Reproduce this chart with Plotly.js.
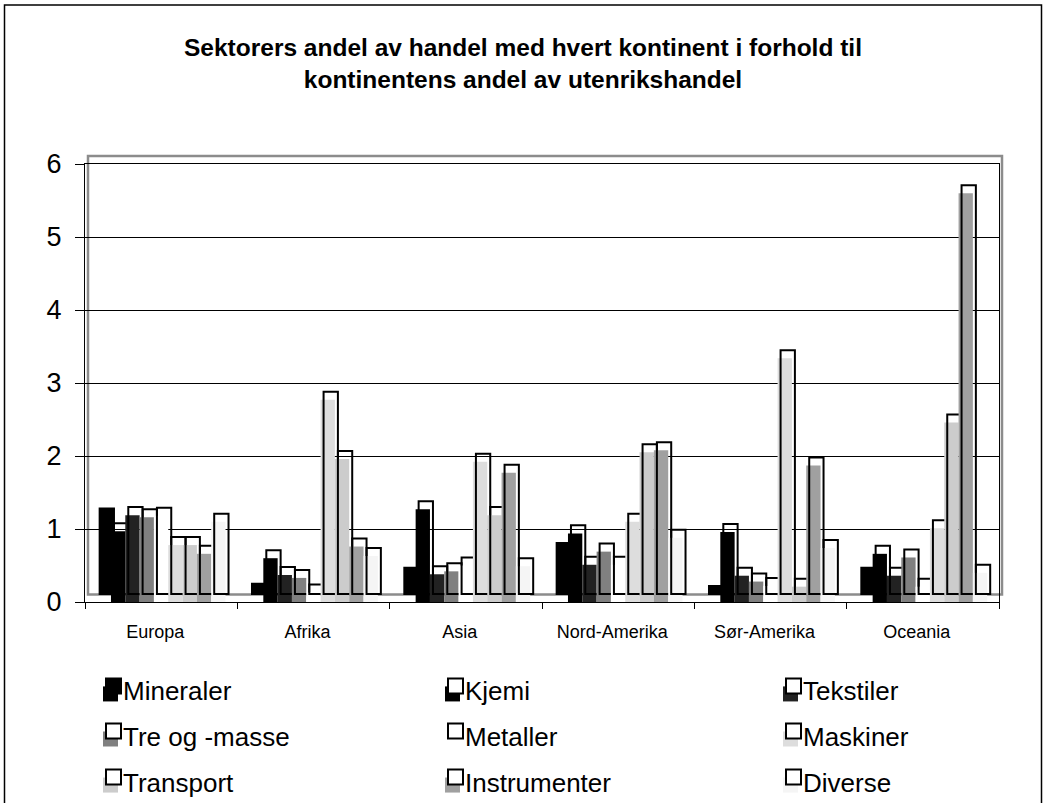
<!DOCTYPE html>
<html>
<head>
<meta charset="utf-8">
<script src="https://cdn.plot.ly/plotly-3.0.1.min.js"></script>
<style>
html,body{margin:0;padding:0;background:#fff;}
#chart{width:1046px;height:803px;}
</style>
</head>
<body>
<div id="chart"></div>
<script>
// ---- data ----
const continents = ['Europa', 'Afrika', 'Asia', 'Nord-Amerika', 'Sør-Amerika', 'Oceania'];
const sectors = ['Mineraler', 'Kjemi', 'Tekstiler', 'Tre og -masse', 'Metaller', 'Maskiner', 'Transport', 'Instrumenter', 'Diverse'];
const mineraler    = [1.17, 0.14, 0.36, 0.70, 0.11, 0.36];
const kjemi        = [0.97, 0.60, 1.27, 0.94, 0.96, 0.66];
const tekstiler    = [1.19, 0.37, 0.38, 0.51, 0.36, 0.36];
const treOgMasse   = [1.16, 0.33, 0.42, 0.69, 0.28, 0.61];
const metaller     = [1.18, 0.13, 0.50, 0.51, 0.22, 0.21];
const maskiner     = [0.78, 2.77, 1.92, 1.10, 3.34, 1.01];
const transport    = [0.78, 1.96, 1.19, 2.05, 0.21, 2.46];
const instrumenter = [0.66, 0.76, 1.77, 2.08, 1.87, 5.60];
const diverse      = [1.10, 0.63, 0.49, 0.88, 0.74, 0.40];
const seriesValues = [mineraler, kjemi, tekstiler, treOgMasse, metaller, maskiner, transport, instrumenter, diverse];
const yTickVals = [0, 1, 2, 3, 4, 5, 6];

// ---- styles ----
const frontColors = ['rgba(0,0,0,0)', '#000000', '#222222', '#808080', '#ffffff', '#dddddd', '#cccccc', '#a0a0a0', '#f5f5f5'];
const backFill    = ['#000000', 'rgba(0,0,0,0)', 'rgba(0,0,0,0)', 'rgba(0,0,0,0)', 'rgba(0,0,0,0)', 'rgba(0,0,0,0)', 'rgba(0,0,0,0)', 'rgba(0,0,0,0)', 'rgba(0,0,0,0)'];
const legendFill  = ['#000000', '#000000', '#222222', '#808080', '#ffffff', '#dddddd', '#cccccc', '#a0a0a0', '#f5f5f5'];

const W = 1046, H = 803;
const L = 85, R = 999, T = 164.3, B = 601.7;
const pxPerUnit = (B - T) / 6;
const catPx = (R - L) / 6;
const barW = 0.094;
const depthX = 3 / catPx;        // 3D shift right
const depthY = 8 / pxPerUnit;    // 3D shift up
const FONT = 'Arial, "Liberation Sans", sans-serif';

const traces = [];
seriesValues.forEach((vals, i) => {
  const off = -0.4235 + i * barW;
  // front face
  traces.push({
    type: 'bar', name: sectors[i], x: continents, y: vals,
    base: 0, width: barW, offset: off,
    marker: {color: frontColors[i], line: {width: 0}},
    showlegend: false, hoverinfo: 'skip'
  });
  // back outline
  traces.push({
    type: 'bar', name: sectors[i] + ' ', x: continents, y: vals,
    base: depthY, width: barW, offset: off + depthX,
    marker: {color: backFill[i], line: {width: 2, color: '#000'}},
    showlegend: false, hoverinfo: 'skip'
  });
});

const px2x = p => (p - L) / (R - L);
const py2y = p => (B - p) / (B - T);

const shapes = [];
const annotations = [];
// back wall frame (grey)
shapes.push({type: 'rect', xref: 'paper', yref: 'paper', layer: 'below',
  x0: px2x(L + 3), x1: px2x(R + 3), y0: py2y(B - 7.5), y1: py2y(T - 8),
  line: {color: '#8c8c8c', width: 2.5}, fillcolor: 'rgba(0,0,0,0)'});
// outer chart frame
shapes.push({type: 'rect', xref: 'paper', yref: 'paper', layer: 'above',
  x0: px2x(4.5), x1: px2x(1041.5), y0: py2y(830), y1: py2y(5.5),
  line: {color: '#000', width: 1.5}, fillcolor: 'rgba(0,0,0,0)'});

// legend (3 x 3)
const legCols = [103, 445, 783];
const legBase = [701, 746, 792];
sectors.forEach((s, i) => {
  const cx = legCols[i % 3], by = legBase[Math.floor(i / 3)];
  const sz = 15;
  // fill square (lower-left)
  shapes.push({type: 'rect', xref: 'paper', yref: 'paper',
    x0: px2x(cx), x1: px2x(cx + sz), y0: py2y(by), y1: py2y(by - sz),
    line: {width: 0}, fillcolor: legendFill[i]});
  // outline square (upper-right)
  shapes.push({type: 'rect', xref: 'paper', yref: 'paper',
    x0: px2x(cx + 3), x1: px2x(cx + 3 + sz), y0: py2y(by - 8), y1: py2y(by - 8 - sz),
    line: {width: 2, color: '#000'}, fillcolor: i === 0 ? '#000' : '#fff'});
  annotations.push({xref: 'paper', yref: 'paper', x: px2x(cx + 18), y: py2y(by + 7),
    xanchor: 'left', yanchor: 'bottom', showarrow: false, text: s,
    font: {family: FONT, size: 26, color: '#000'}});
});

const layout = {
  width: W, height: H,
  margin: {l: L, r: W - R, t: T, b: H - B, pad: 0},
  paper_bgcolor: '#fff', plot_bgcolor: 'rgba(0,0,0,0)',
  barmode: 'overlay',
  font: {family: FONT, color: '#000'},
  title: {text: '<b>Sektorers andel av handel med hvert kontinent i forhold til<br>kontinentens andel av utenrikshandel</b>',
    font: {family: FONT, size: 24.5, color: '#000'}, x: 0.5, xref: 'container', xanchor: 'center',
    y: 1 - 56 / H, yref: 'container', yanchor: 'middle'},
  xaxis: {type: 'category', categoryorder: 'array', categoryarray: continents,
    range: [-0.5, 5.5], showline: true, linecolor: '#000', linewidth: 1, mirror: true,
    ticks: 'outside', tickson: 'boundaries', ticklen: 6, tickcolor: '#000',
    showgrid: false, zeroline: false, ticklabelshift: -6, ticklabelstandoff: 13,
    tickfont: {family: FONT, size: 18, color: '#000'}},
  yaxis: {range: [0, 6], tickvals: yTickVals, showline: true, linecolor: '#000', linewidth: 1, mirror: true,
    ticks: 'outside', ticklen: 9, tickcolor: '#000', ticklabelstandoff: 8,
    showgrid: true, gridcolor: '#000', gridwidth: 1, zeroline: false,
    tickfont: {family: FONT, size: 27, color: '#000'}},
  shapes: shapes, annotations: annotations,
  showlegend: false
};

Plotly.newPlot('chart', traces, layout, {staticPlot: true, displayModeBar: false});
</script>
</body>
</html>
